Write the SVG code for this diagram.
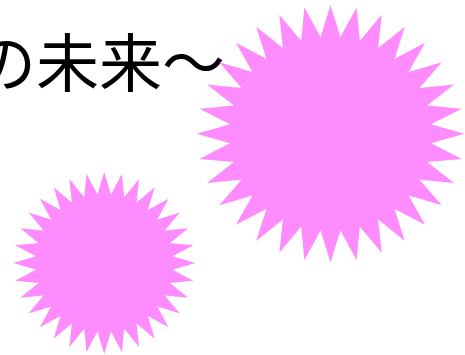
<svg xmlns="http://www.w3.org/2000/svg" xmlns:xlink="http://www.w3.org/1999/xlink" width="465" height="355" viewBox="0 0 465 355">
<style>
.star{fill:#ff8cff;stroke:none}
.title{font-family:"Noto Sans CJK JP","Noto Sans CJK SC",sans-serif;font-size:63px;fill:#000}
</style>
<defs>
<polygon id="burst" points="0,-100 7.4,-75.14 19.51,-98.08 21.92,-72.25 38.27,-92.39 35.59,-66.59 55.56,-83.15 47.9,-58.36 70.71,-70.71 58.36,-47.9 83.15,-55.56 66.59,-35.59 92.39,-38.27 72.25,-21.92 98.08,-19.51 75.14,-7.4 100,0 75.14,7.4 98.08,19.51 72.25,21.92 92.39,38.27 66.59,35.59 83.15,55.56 58.36,47.9 70.71,70.71 47.9,58.36 55.56,83.15 35.59,66.59 38.27,92.39 21.92,72.25 19.51,98.08 7.4,75.14 0,100 -7.4,75.14 -19.51,98.08 -21.92,72.25 -38.27,92.39 -35.59,66.59 -55.56,83.15 -47.9,58.36 -70.71,70.71 -58.36,47.9 -83.15,55.56 -66.59,35.59 -92.39,38.27 -72.25,21.92 -98.08,19.51 -75.14,7.4 -100,0 -75.14,-7.4 -98.08,-19.51 -72.25,-21.92 -92.39,-38.27 -66.59,-35.59 -83.15,-55.56 -58.36,-47.9 -70.71,-70.71 -47.9,-58.36 -55.56,-83.15 -35.59,-66.59 -38.27,-92.39 -21.92,-72.25 -19.51,-98.08 -7.4,-75.14"/>
</defs>
<g id="title-text">
<text class="title" x="-27" y="86">の未来〜</text>
</g>
<g id="star-large">
<use xlink:href="#burst" href="#burst" class="star" transform="translate(330.5,133.8) scale(1.338,1.288)"/>
</g>
<g id="star-small">
<use xlink:href="#burst" href="#burst" class="star" transform="translate(104.2,263) scale(0.91)"/>
</g>
<g id="connectors"></g>
</svg>
